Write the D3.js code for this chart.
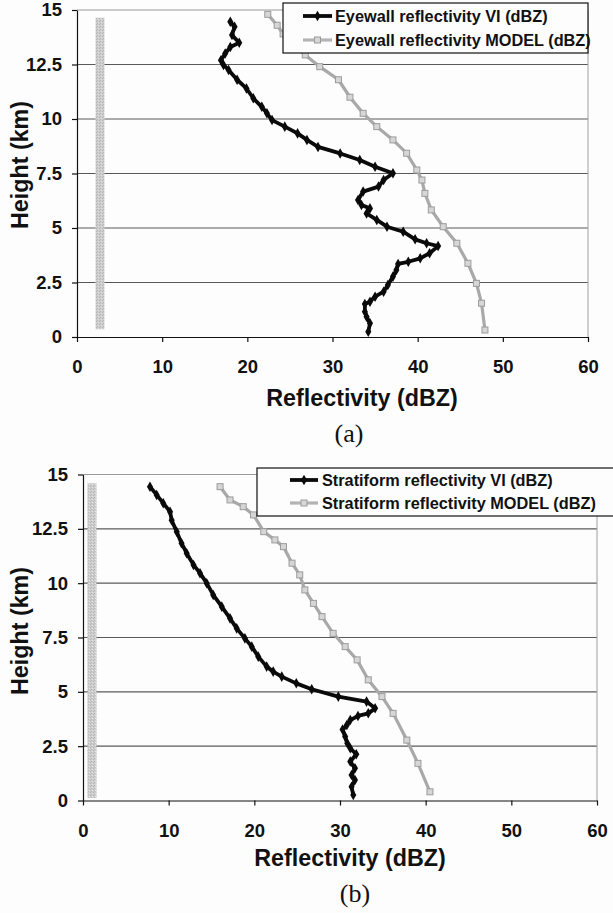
<!DOCTYPE html>
<html>
<head>
<meta charset="utf-8">
<script src="https://cdn.jsdelivr.net/npm/d3@7"></script>
<style>
  html, body { margin: 0; padding: 0; background: #fdfdfd; }
  svg { display: block; }
  text { font-family: "Liberation Sans", Arial, Helvetica, sans-serif; }
</style>
</head>
<body>
<svg id="chart" width="613" height="913"></svg>
<script>
// Axis ticks shared by both profiles
const heightTicks = [0, 2.5, 5, 7.5, 10, 12.5, 15];
const reflectivityTicks = [0, 10, 20, 30, 40, 50, 60];

// (a) Eyewall profiles: height (km) and reflectivity (dBZ)
const eyewallViHeight = [14.46, 14.23, 13.85, 13.5, 13.3, 13.0, 12.7, 12.48, 12.25, 11.8, 11.4, 10.95, 10.56, 10.26, 9.95, 9.65, 9.34, 9.04, 8.72, 8.42, 8.12, 7.81, 7.51, 7.2, 6.9, 6.67, 6.28, 6.06, 5.9, 5.67, 5.37, 5.06, 4.83, 4.48, 4.3, 4.17, 3.84, 3.61, 3.45, 3.35, 3.07, 2.77, 2.39, 2.08, 1.85, 1.62, 1.51, 1.16, 0.93, 0.63, 0.24];
const eyewallViValue = [18.0, 18.5, 18.2, 19.05, 18.0, 17.4, 16.9, 17.2, 17.8, 18.8, 19.9, 20.7, 21.7, 22.3, 22.9, 24.4, 25.9, 27.0, 28.3, 30.9, 33.2, 35.0, 37.1, 36.0, 35.4, 33.6, 33.0, 33.4, 34.4, 34.0, 35.2, 36.4, 38.3, 39.7, 41.05, 42.4, 41.4, 40.3, 38.9, 37.7, 37.5, 37.1, 36.5, 36.0, 35.0, 34.4, 33.8, 33.8, 34.0, 34.4, 34.2];
const eyewallModelHeight = [14.8, 14.3, 13.9, 13.45, 12.94, 12.4, 11.8, 11.0, 10.26, 9.65, 9.04, 8.43, 7.66, 7.2, 6.59, 5.83, 5.06, 4.3, 3.38, 2.46, 1.55, 0.32];
const eyewallModelValue = [22.4, 23.5, 24.2, 25.3, 26.8, 28.5, 30.7, 32.05, 33.6, 35.2, 37.1, 38.7, 39.9, 40.5, 40.85, 41.6, 43.0, 44.6, 45.9, 46.9, 47.5, 47.9];
const eyewallFloorHeight = [0.35, 14.65];
const eyewallFloorValue = [2.7, 2.7];

// (b) Stratiform profiles: height (km) and reflectivity (dBZ)
const stratViHeight = [14.44, 14.06, 13.68, 13.29, 12.9, 12.37, 11.84, 11.38, 10.84, 10.46, 10.0, 9.46, 8.92, 8.38, 7.92, 7.46, 7.08, 6.62, 6.16, 5.93, 5.7, 5.39, 5.12, 4.78, 4.55, 4.24, 4.01, 3.89, 3.7, 3.47, 3.27, 2.94, 2.63, 2.4, 2.13, 1.79, 1.48, 1.17, 0.94, 0.63, 0.25];
const stratViValue = [7.82, 8.6, 9.37, 10.16, 10.35, 10.94, 11.5, 12.1, 12.9, 13.66, 14.44, 15.2, 16.2, 17.16, 17.94, 18.9, 19.7, 20.46, 21.44, 22.2, 23.2, 24.9, 26.7, 29.8, 33.1, 34.1, 33.3, 32.1, 31.2, 30.8, 30.3, 30.6, 30.85, 31.2, 31.9, 31.2, 31.75, 31.35, 31.75, 31.35, 31.55];
const stratModelHeight = [14.44, 13.83, 13.52, 13.14, 12.37, 11.99, 11.68, 10.92, 10.38, 9.69, 9.07, 8.46, 7.69, 7.08, 6.47, 5.55, 4.78, 4.01, 2.78, 1.71, 0.4];
const stratModelValue = [16.0, 17.16, 18.7, 19.9, 21.1, 22.4, 23.4, 24.4, 25.3, 25.9, 26.9, 27.9, 29.2, 30.6, 32.0, 33.3, 34.9, 36.2, 37.8, 39.1, 40.5];
const stratFloorHeight = [0.12, 14.6];
const stratFloorValue = [1.05, 1.05];

// Legend entries
const eyewallLegend = ["Eyewall reflectivity VI (dBZ)", "Eyewall reflectivity MODEL (dBZ)"];
const stratLegend = ["Stratiform reflectivity VI (dBZ)", "Stratiform reflectivity MODEL (dBZ)"];

const svg = d3.select("#chart");

// Stippled grey used for the constant band
const defs = svg.append("defs");
const pat = defs.append("pattern").attr("id", "stipple")
  .attr("patternUnits", "userSpaceOnUse").attr("width", 3).attr("height", 3);
pat.append("rect").attr("width", 3).attr("height", 3).attr("fill", "#cdcdcd");
pat.append("rect").attr("x", 0).attr("y", 0).attr("width", 1).attr("height", 1).attr("fill", "#b3b3b3");
pat.append("rect").attr("x", 2).attr("y", 1).attr("width", 1).attr("height", 1).attr("fill", "#e2e2e2");
pat.append("rect").attr("x", 1).attr("y", 2).attr("width", 1).attr("height", 1).attr("fill", "#b8b8b8");

const zip = (hs, vs) => hs.map((h, i) => ({ h, v: vs[i] }));

function drawPanel(p) {
  const x = d3.scaleLinear().domain([0, 60]).range([p.left, p.right]);
  const y = d3.scaleLinear().domain([0, 15]).range([p.bottom, p.top]);
  const g = svg.append("g");

  // horizontal gridlines
  g.append("g").selectAll("line")
    .data(heightTicks.filter(t => t > 0))
    .join("line")
    .attr("x1", p.left).attr("x2", p.right)
    .attr("y1", d => y(d)).attr("y2", d => y(d))
    .attr("stroke", d => d === 15 ? "#9a9a9a" : "#5a5a5a")
    .attr("stroke-width", 1.1);

  // right frame
  g.append("line")
    .attr("x1", p.right).attr("x2", p.right)
    .attr("y1", p.top).attr("y2", p.bottom)
    .attr("stroke", "#a0a0a0").attr("stroke-width", 1);

  // axes
  const yAxis = d3.axisLeft(y).tickValues(heightTicks).tickSize(5).tickSizeOuter(0)
    .tickPadding(10).tickFormat(d => String(d));
  const xAxis = d3.axisBottom(x).tickValues(reflectivityTicks).tickSize(5).tickSizeOuter(0)
    .tickPadding(18).tickFormat(d => String(d));

  const ya = g.append("g").attr("transform", `translate(${p.left},0)`).call(yAxis);
  const xa = g.append("g").attr("transform", `translate(0,${p.bottom})`).call(xAxis);
  [ya, xa].forEach(a => {
    a.select(".domain").attr("stroke", "#111").attr("stroke-width", 1.2);
    a.selectAll(".tick line").attr("stroke", "#111").attr("stroke-width", 1.2);
    a.selectAll(".tick text").attr("fill", "#111")
      .style("font-size", "18.5px").style("font-weight", "bold")
      .style("font-family", '"Liberation Sans", Arial, sans-serif');
  });

  const line = d3.line().x(d => x(d.v)).y(d => y(d.h));

  // constant band
  g.append("path").datum(zip(p.floorH, p.floorV))
    .attr("d", line).attr("fill", "none")
    .attr("stroke", "url(#stipple)").attr("stroke-width", 9);

  // model profile (grey, square markers)
  const model = zip(p.modelH, p.modelV);
  g.append("path").datum(model).attr("d", line).attr("fill", "none")
    .attr("stroke", "#a9a9a9").attr("stroke-width", 3.2);
  g.append("g").selectAll("rect").data(model).join("rect")
    .attr("x", d => x(d.v) - 3).attr("y", d => y(d.h) - 3)
    .attr("width", 6).attr("height", 6)
    .attr("fill", "#d6d6d6").attr("stroke", "#9c9c9c").attr("stroke-width", 1);

  // VI profile (black, diamond markers)
  const vi = zip(p.viH, p.viV);
  g.append("path").datum(vi).attr("d", line).attr("fill", "none")
    .attr("stroke", "#0a0a0a").attr("stroke-width", 3.8).attr("stroke-linejoin", "round");
  const diamond = d3.symbol().type(d3.symbolDiamond).size(32);
  g.append("g").selectAll("path").data(vi).join("path")
    .attr("transform", d => `translate(${x(d.v)},${y(d.h)})`)
    .attr("d", diamond).attr("fill", "#0a0a0a");

  // legend
  const L = p.legend;
  g.append("rect").attr("x", L.x).attr("y", L.y).attr("width", L.w).attr("height", L.h)
    .attr("fill", "#fdfdfd").attr("stroke", "#111").attr("stroke-width", 1.2);
  L.labels.forEach((label, i) => {
    const ly = L.rowY[i];
    if (i === 0) {
      g.append("line").attr("x1", L.sx1).attr("x2", L.sx2).attr("y1", ly).attr("y2", ly)
        .attr("stroke", "#0a0a0a").attr("stroke-width", 3.8);
      g.append("path").attr("transform", `translate(${(L.sx1 + L.sx2) / 2},${ly})`)
        .attr("d", diamond).attr("fill", "#0a0a0a");
    } else {
      g.append("line").attr("x1", L.sx1).attr("x2", L.sx2).attr("y1", ly).attr("y2", ly)
        .attr("stroke", "#b4b4b4").attr("stroke-width", 3.2);
      g.append("rect").attr("x", (L.sx1 + L.sx2) / 2 - 3).attr("y", ly - 3)
        .attr("width", 6).attr("height", 6)
        .attr("fill", "#d6d6d6").attr("stroke", "#9c9c9c");
    }
    g.append("text").attr("x", L.tx).attr("y", ly + 6)
      .attr("fill", "#111").style("font-size", "16.3px").style("font-weight", "bold")
      .text(label);
  });

  // axis titles
  g.append("text").attr("x", p.xTitleX).attr("y", p.xTitleY)
    .attr("text-anchor", "middle").attr("fill", "#111")
    .style("font-size", "23.3px").style("font-weight", "bold")
    .text("Reflectivity (dBZ)");
  g.append("text")
    .attr("transform", `translate(28,${p.yTitleY}) rotate(-90)`)
    .attr("text-anchor", "middle").attr("fill", "#111")
    .style("font-size", "23.3px").style("font-weight", "bold")
    .text("Height (km)");

  // panel caption
  g.append("text").attr("x", p.capX).attr("y", p.capY)
    .attr("text-anchor", "middle").attr("fill", "#111")
    .style("font-family", '"Liberation Serif", "Times New Roman", serif')
    .style("font-size", "26px")
    .text(p.caption);
}

drawPanel({
  left: 77, right: 588, top: 10, bottom: 337,
  viH: eyewallViHeight, viV: eyewallViValue,
  modelH: eyewallModelHeight, modelV: eyewallModelValue,
  floorH: eyewallFloorHeight, floorV: eyewallFloorValue,
  legend: { x: 283, y: 3, w: 305, h: 50, rowY: [16, 40], sx1: 303, sx2: 332, tx: 335, labels: eyewallLegend },
  xTitleX: 362, xTitleY: 406, yTitleY: 165,
  capX: 349, capY: 442, caption: "(a)"
});

drawPanel({
  left: 83, right: 597, top: 474.5, bottom: 800.5,
  viH: stratViHeight, viV: stratViValue,
  modelH: stratModelHeight, modelV: stratModelValue,
  floorH: stratFloorHeight, floorV: stratFloorValue,
  legend: { x: 257, y: 468, w: 370, h: 48, rowY: [480, 503], sx1: 290, sx2: 318, tx: 322, labels: stratLegend },
  xTitleX: 350, xTitleY: 866, yTitleY: 631,
  capX: 355, capY: 902, caption: "(b)"
});
</script>
</body>
</html>
